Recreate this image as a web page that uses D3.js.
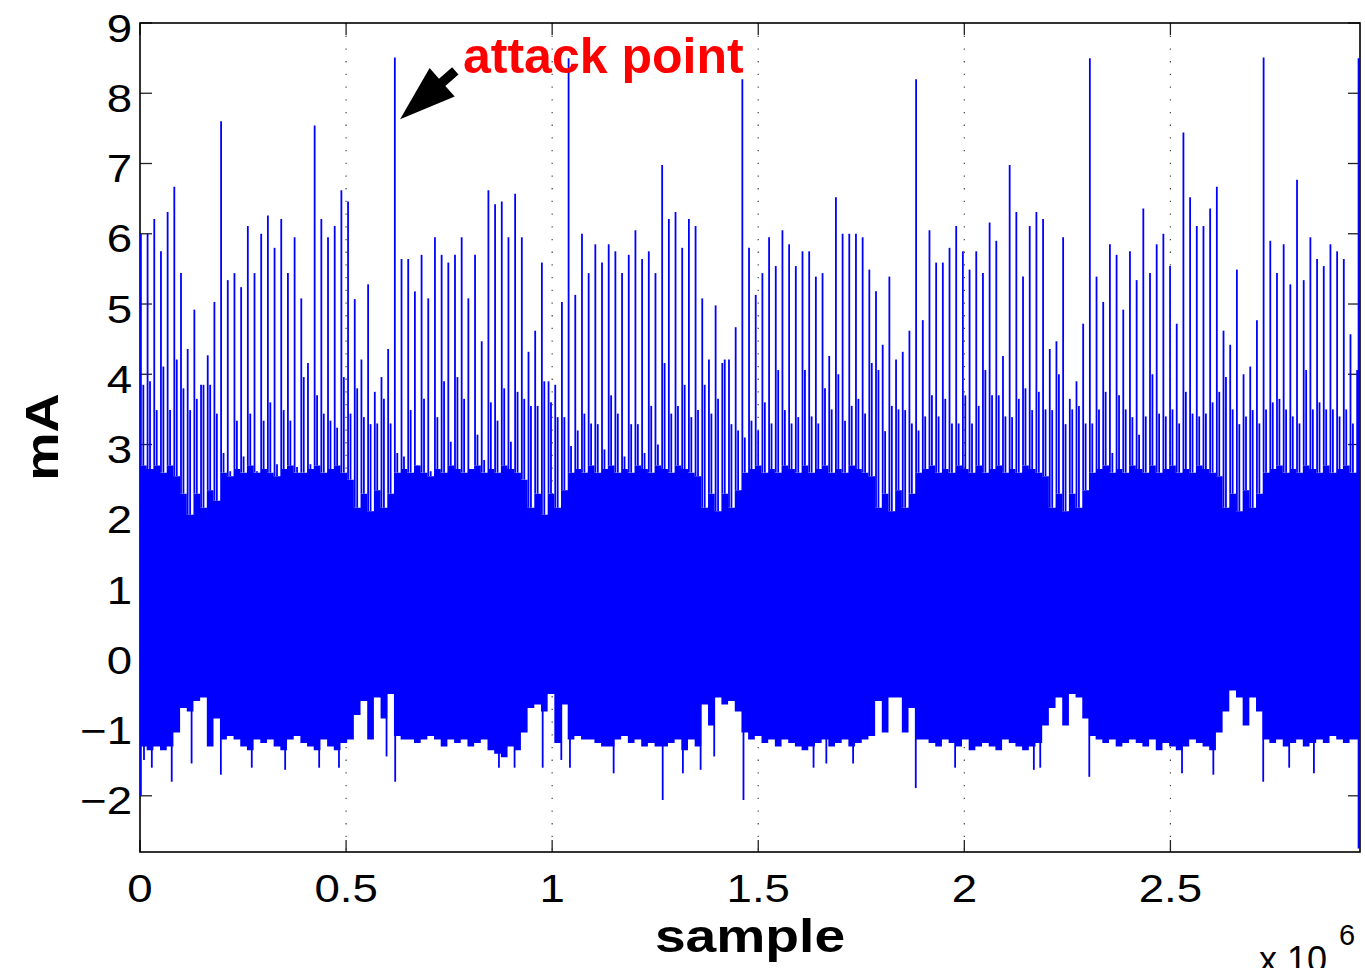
<!DOCTYPE html>
<html>
<head>
<meta charset="utf-8">
<title>current trace</title>
<script src="https://cdn.jsdelivr.net/npm/d3@7"></script>
<style>
body { margin: 0; background: #fff; }
text { font-family: "Liberation Sans", Arial, Helvetica, sans-serif; }
</style>
</head>
<body>
<script>
// trace, one slot every slotSamples samples
const slotSamples = 16214;

// main spike top per slot (mA)
const peak = [
  6.0, 6.0, 6.21, 5.75, 6.31, 6.67, 5.44, 4.36, 4.92, 3.85, 4.27, 5.03, 7.6, 5.34, 5.44, 5.24, 6.11, 5.44, 6.0, 6.26,
  5.8, 6.21, 5.44, 5.95, 5.08, 4.16, 7.54, 6.21, 5.95, 6.11, 6.62, 6.46, 5.07, 4.21, 5.28, 3.75, 3.96, 4.36, 8.51, 5.64,
  5.64, 5.18, 5.7, 5.08, 5.95, 5.7, 5.59, 5.7, 5.95, 5.08, 5.7, 4.47, 6.62, 6.42, 6.46, 5.95, 6.57, 5.95, 4.32, 4.62,
  5.59, 3.9, 3.85, 5.03, 8.5, 5.13, 6.0, 5.44, 5.85, 5.59, 5.85, 5.75, 5.44, 5.7, 6.05, 5.64, 5.75, 5.44, 6.98, 6.21,
  6.31, 5.8, 6.21, 6.11, 5.08, 4.21, 4.98, 4.16, 4.21, 4.67, 8.2, 5.8, 5.13, 5.44, 5.95, 5.54, 6.05, 5.85, 5.54, 5.75,
  5.75, 5.39, 5.44, 4.26, 6.52, 6.0, 6.0, 6.0, 5.95, 5.49, 5.18, 4.42, 5.39, 4.21, 4.32, 4.62, 8.2, 4.77, 6.05, 5.59,
  5.59, 5.8, 6.11, 5.75, 5.49, 5.75, 5.44, 6.16, 5.9, 4.26, 6.98, 6.31, 5.39, 6.11, 6.31, 6.21, 4.36, 4.47, 5.95, 3.65,
  3.9, 4.72, 8.5, 5.39, 5.03, 5.85, 5.7, 4.92, 5.75, 5.34, 6.36, 5.44, 5.85, 6.0, 5.54, 4.72, 7.44, 6.52, 6.11, 6.11,
  6.36, 6.67, 4.62, 4.42, 5.49, 4.0, 4.11, 4.77, 8.51, 5.9, 5.44, 5.85, 5.28, 6.77, 5.34, 5.95, 5.64, 5.54, 5.85, 5.75,
  5.64, 4.57, 4.06
];

// smaller spike between two main spikes
const minor = [
  3.85, 3.9, 3.49, 4.11, 3.49, 4.21, 3.8, 3.49, 3.65, 3.85, 3.85, 3.44, 2.88, 2.62, 3.34, 2.83, 3.44, 2.62, 3.34, 3.6,
  2.72, 3.49, 3.34, 2.68, 3.96, 2.72, 3.7, 3.44, 3.34, 3.24, 3.96, 3.44, 3.8, 3.39, 3.29, 3.3, 3.65, 3.3, 2.88, 2.83,
  3.49, 2.62, 3.65, 2.62, 3.39, 3.9, 3.04, 3.96, 3.65, 2.62, 3.14, 2.78, 3.6, 3.34, 3.8, 3.04, 3.75, 3.65, 3.55, 3.55,
  3.9, 3.6, 3.39, 3.39, 2.98, 3.2, 3.44, 3.3, 3.29, 2.93, 3.7, 3.44, 2.83, 3.29, 3.29, 2.88, 3.55, 3.0, 4.16, 3.44,
  3.55, 3.85, 3.39, 3.49, 3.85, 3.44, 3.65, 4.21, 3.29, 3.2, 3.1, 3.34, 3.2, 3.6, 3.3, 4.06, 3.49, 3.3, 3.39, 4.06,
  3.4, 3.3, 3.8, 3.5, 4.0, 3.34, 3.55, 3.65, 3.44, 4.16, 4.06, 3.19, 3.55, 3.5, 3.49, 3.3, 3.2, 3.4, 3.7, 3.4,
  3.65, 3.3, 3.3, 3.7, 3.3, 3.55, 4.06, 3.7, 3.7, 3.4, 3.39, 3.65, 3.8, 3.49, 3.75, 3.5, 3.49, 4.0, 3.29, 3.5,
  3.55, 3.3, 3.3, 3.5, 3.75, 2.88, 3.7, 3.5, 3.39, 3.14, 3.4, 4.0, 3.44, 3.4, 3.5, 3.3, 3.75, 3.44, 3.4, 3.44,
  3.6, 3.75, 3.96, 3.5, 3.29, 3.4, 3.49, 3.3, 3.5, 3.6, 3.65, 3.5, 3.4, 3.3, 4.06, 3.5, 3.6, 3.5, 3.5, 3.4,
  3.5, 3.3, 3.3
];

// top and bottom of the dense band per slot
const bandTop = [
  2.7, 2.65, 2.7, 2.6, 2.7, 2.55,
  2.3, 2.0, 2.3, 2.1, 2.35, 2.2,
  2.6, 2.55, 2.65, 2.6, 2.7, 2.6, 2.65, 2.6, 2.55, 2.65, 2.7, 2.6, 2.6, 2.65, 2.7, 2.6, 2.65, 2.7, 2.6, 2.5,
  2.1, 2.3, 2.05, 2.35, 2.1, 2.3,
  2.6, 2.65, 2.6, 2.7, 2.6, 2.55, 2.65, 2.6, 2.7, 2.65, 2.6, 2.65, 2.7, 2.6, 2.65, 2.6, 2.7, 2.65, 2.6, 2.5,
  2.1, 2.3, 2.0, 2.3, 2.1, 2.35,
  2.6, 2.65, 2.6, 2.7, 2.6, 2.65, 2.7, 2.6, 2.65, 2.6, 2.7, 2.65, 2.6, 2.7, 2.65, 2.6, 2.7, 2.65, 2.6, 2.55,
  2.1, 2.3, 2.05, 2.3, 2.1, 2.35,
  2.6, 2.65, 2.7, 2.6, 2.65, 2.6, 2.7, 2.65, 2.6, 2.7, 2.6, 2.65, 2.7, 2.6, 2.65, 2.6, 2.7, 2.65, 2.6, 2.55,
  2.1, 2.3, 2.05, 2.35, 2.1, 2.3,
  2.6, 2.65, 2.7, 2.6, 2.65, 2.6, 2.7, 2.65, 2.6, 2.7, 2.6, 2.65, 2.7, 2.6, 2.65, 2.6, 2.7, 2.65, 2.6, 2.55,
  2.1, 2.3, 2.05, 2.3, 2.1, 2.35,
  2.6, 2.65, 2.7, 2.6, 2.65, 2.6, 2.7, 2.65, 2.6, 2.7, 2.6, 2.65, 2.7, 2.6, 2.65, 2.6, 2.7, 2.65, 2.6, 2.55,
  2.1, 2.3, 2.05, 2.35, 2.1, 2.3,
  2.6, 2.65, 2.7, 2.6, 2.65, 2.6, 2.7, 2.65, 2.6, 2.7, 2.6, 2.65, 2.7, 2.6, 2.65
];

const bandBot = [
  -1.3, -1.35, -1.3, -1.35, -1.3, -1.1,
  -0.75, -0.8, -0.65, -0.6, -1.3, -0.9,
  -1.2, -1.15, -1.2, -1.3, -1.35, -1.2, -1.25, -1.2, -1.3, -1.35, -1.2, -1.15, -1.25, -1.3, -1.35, -1.2, -1.3, -1.35, -1.25, -1.2,
  -0.85, -0.65, -1.2, -0.6, -0.9, -0.55,
  -1.15, -1.2, -1.2, -1.25, -1.2, -1.15, -1.2, -1.3, -1.2, -1.25, -1.2, -1.3, -1.25, -1.2, -1.35, -1.4, -1.45, -1.3, -1.35, -1.1,
  -0.75, -0.7, -0.8, -0.55, -1.25, -0.7,
  -1.2, -1.15, -1.2, -1.2, -1.25, -1.3, -1.3, -1.2, -1.15, -1.25, -1.2, -1.3, -1.25, -1.3, -1.3, -1.25, -1.2, -1.35, -1.2, -1.3,
  -0.7, -1.0, -0.6, -0.7, -0.65, -0.8,
  -1.1, -1.2, -1.15, -1.25, -1.2, -1.3, -1.2, -1.25, -1.3, -1.35, -1.3, -1.25, -1.2, -1.3, -1.25, -1.2, -1.3, -1.25, -1.2, -1.15,
  -0.65, -1.1, -0.6, -0.6, -1.1, -0.75,
  -1.2, -1.2, -1.25, -1.3, -1.2, -1.25, -1.3, -1.2, -1.35, -1.3, -1.25, -1.3, -1.35, -1.2, -1.25, -1.3, -1.35, -1.3, -1.25, -1.0,
  -0.75, -0.6, -1.0, -0.55, -0.6, -0.9,
  -1.15, -1.2, -1.25, -1.2, -1.3, -1.25, -1.2, -1.25, -1.3, -1.2, -1.35, -1.25, -1.3, -1.35, -1.3, -1.2, -1.25, -1.3, -1.35, -1.1,
  -0.8, -0.5, -0.6, -1.0, -0.6, -0.8,
  -1.2, -1.25, -1.2, -1.3, -1.25, -1.2, -1.3, -1.25, -1.2, -1.25, -1.15, -1.2, -1.25, -1.2, -1.2
];

// deeper negative excursions: position (x 1e6 samples) and value
const dipX = [0.0, 0.0075, 0.0265, 0.0748, 0.123, 0.194, 0.269, 0.350, 0.4325, 0.4806, 0.596, 0.617,
  0.8687, 0.9066, 0.9748, 1.020, 1.041, 1.147, 1.266, 1.315, 1.358, 1.391, 1.462,
  1.632, 1.663, 1.728, 1.880, 1.9755, 2.1665, 2.182, 2.301, 2.526, 2.602, 2.723, 2.786, 2.846];
const dipY = [-2.0, -1.49, -1.6, -1.8, -1.54, -1.7, -1.6, -1.63, -1.6, -1.6, -1.44, -1.8,
  -1.6, -1.6, -1.6, -1.49, -1.6, -1.68, -2.06, -1.68, -1.63, -1.44, -2.06,
  -1.6, -1.54, -1.54, -1.89, -1.6, -1.63, -1.6, -1.73, -1.68, -1.7, -1.8, -1.6, -1.68];

// last samples at the right edge
const endX = 2.958;
const endHi = 8.5;
const endLo = -2.75;

const xTicks = [0, 0.5, 1, 1.5, 2, 2.5];
const yTicks = [-2, -1, 0, 1, 2, 3, 4, 5, 6, 7, 8, 9];

// annotation arrow, in data units (x 1e6 samples, mA)
const arrowTip = [0.631, 7.63];
const arrowTail = [0.765, 8.32];

const width = 1365, height = 968;
const blue = "#0000ff";

const svg = d3.select("body").append("svg")
    .attr("width", width)
    .attr("height", height);

const x = d3.scaleLinear().domain([0, 2.96e6]).range([140, 1360]);
const y = d3.scaleLinear().domain([-2.8, 9]).range([852, 23]);

svg.append("defs").append("clipPath").attr("id", "plot")
  .append("rect")
    .attr("x", 140).attr("y", 23)
    .attr("width", 1220).attr("height", 829);

// x grid (dotted)
svg.append("g")
  .selectAll("line")
  .data(xTicks.slice(1))
  .join("line")
    .attr("x1", d => x(d * 1e6)).attr("x2", d => x(d * 1e6))
    .attr("y1", 23).attr("y2", 852)
    .attr("stroke", "#444")
    .attr("stroke-width", 1.2)
    .attr("stroke-dasharray", "1.3,11.4");

// ticks, inward on all four sides
const tickLen = 12;
const ticks = svg.append("g").attr("stroke", "#222").attr("stroke-width", 1.3);
xTicks.forEach(t => {
  const px = x(t * 1e6);
  ticks.append("line").attr("x1", px).attr("x2", px).attr("y1", 852).attr("y2", 852 - tickLen);
  ticks.append("line").attr("x1", px).attr("x2", px).attr("y1", 23).attr("y2", 23 + tickLen);
});
yTicks.forEach(t => {
  const py = y(t);
  ticks.append("line").attr("x1", 140).attr("x2", 140 + tickLen).attr("y1", py).attr("y2", py);
  ticks.append("line").attr("x1", 1360).attr("x2", 1360 - tickLen).attr("y1", py).attr("y2", py);
});

// box
svg.append("rect")
    .attr("x", 140).attr("y", 23)
    .attr("width", 1220).attr("height", 829)
    .attr("fill", "none")
    .attr("stroke", "#000")
    .attr("stroke-width", 1.6);

// the trace
const plot = svg.append("g").attr("clip-path", "url(#plot)");

const slots = d3.range(peak.length + 1);
const area = d3.area()
    .curve(d3.curveStepAfter)
    .x(n => x(n * slotSamples))
    .y0(n => y(bandBot[Math.min(n, bandBot.length - 1)]))
    .y1(n => y(bandTop[Math.min(n, bandTop.length - 1)]));

plot.append("path")
    .datum(slots)
    .attr("d", area)
    .attr("fill", blue);

const lines = plot.append("g").attr("stroke", blue).attr("stroke-width", 1.8);

lines.selectAll(".peak")
  .data(peak)
  .join("line")
    .attr("class", "peak")
    .attr("x1", (d, n) => x(n * slotSamples) + 0.9)
    .attr("x2", (d, n) => x(n * slotSamples) + 0.9)
    .attr("y1", (d, n) => y(bandTop[n]))
    .attr("y2", d => y(d));

lines.selectAll(".minor")
  .data(minor)
  .join("line")
    .attr("class", "minor")
    .attr("x1", (d, n) => x((n + 0.5) * slotSamples))
    .attr("x2", (d, n) => x((n + 0.5) * slotSamples))
    .attr("y1", (d, n) => y(bandTop[n]))
    .attr("y2", d => y(d));

lines.selectAll(".dip")
  .data(dipX)
  .join("line")
    .attr("class", "dip")
    .attr("x1", d => x(d * 1e6) + 0.9)
    .attr("x2", d => x(d * 1e6) + 0.9)
    .attr("y1", y(-0.5))
    .attr("y2", (d, i) => y(dipY[i]));

plot.append("line")
    .attr("x1", x(endX * 1e6)).attr("x2", x(endX * 1e6))
    .attr("y1", y(endLo)).attr("y2", y(endHi))
    .attr("stroke", blue)
    .attr("stroke-width", 3);

// tick labels
const sx = 1.2;
svg.append("g")
  .selectAll("text")
  .data(xTicks)
  .join("text")
    .attr("transform", d => `translate(${x(d * 1e6)},902) scale(${sx},1)`)
    .attr("text-anchor", "middle")
    .attr("font-size", 38)
    .text(d => d);

svg.append("g")
  .selectAll("text")
  .data(yTicks)
  .join("text")
    .attr("transform", d => `translate(132,${y(d) + 18.5}) scale(${sx},1)`)
    .attr("text-anchor", "end")
    .attr("font-size", 38)
    .text(d => d < 0 ? "\u2212" + Math.abs(d) : d);

// axis labels
svg.append("text")
    .attr("transform", `translate(750,952) scale(${sx},1)`)
    .attr("text-anchor", "middle")
    .attr("font-size", 46)
    .attr("font-weight", "bold")
    .text("sample");

svg.append("text")
    .attr("transform", `translate(58,437) rotate(-90) scale(1.18,1)`)
    .attr("text-anchor", "middle")
    .attr("font-size", 46)
    .attr("font-weight", "bold")
    .text("mA");

// exponent
svg.append("text")
    .attr("x", 1259).attr("y", 972)
    .attr("font-size", 36)
    .text("x 10");
svg.append("text")
    .attr("x", 1339).attr("y", 945)
    .attr("font-size", 29)
    .text("6");

// annotation
svg.append("text")
    .attr("x", 463).attr("y", 73)
    .attr("font-size", 50)
    .attr("font-weight", "bold")
    .attr("fill", "#ff0000")
    .text("attack point");

const tip = [x(arrowTip[0] * 1e6), y(arrowTip[1])];
const tail = [x(arrowTail[0] * 1e6), y(arrowTail[1])];
const dx = tail[0] - tip[0], dy = tail[1] - tip[1];
const len = Math.hypot(dx, dy);
const ux = dx / len, uy = dy / len, nx = -uy, ny = ux;
const headLen = 56, headHalf = 19, shaftHalf = 4.8;
const pt = (a, b) => [tip[0] + ux * a + nx * b, tip[1] + uy * a + ny * b];
const arrowPts = [
  pt(0, 0), pt(headLen, headHalf), pt(headLen, shaftHalf), pt(len, shaftHalf),
  pt(len, -shaftHalf), pt(headLen, -shaftHalf), pt(headLen, -headHalf)
];
svg.append("path")
    .attr("d", d3.line()(arrowPts) + "Z")
    .attr("fill", "#000");
</script>
</body>
</html>
